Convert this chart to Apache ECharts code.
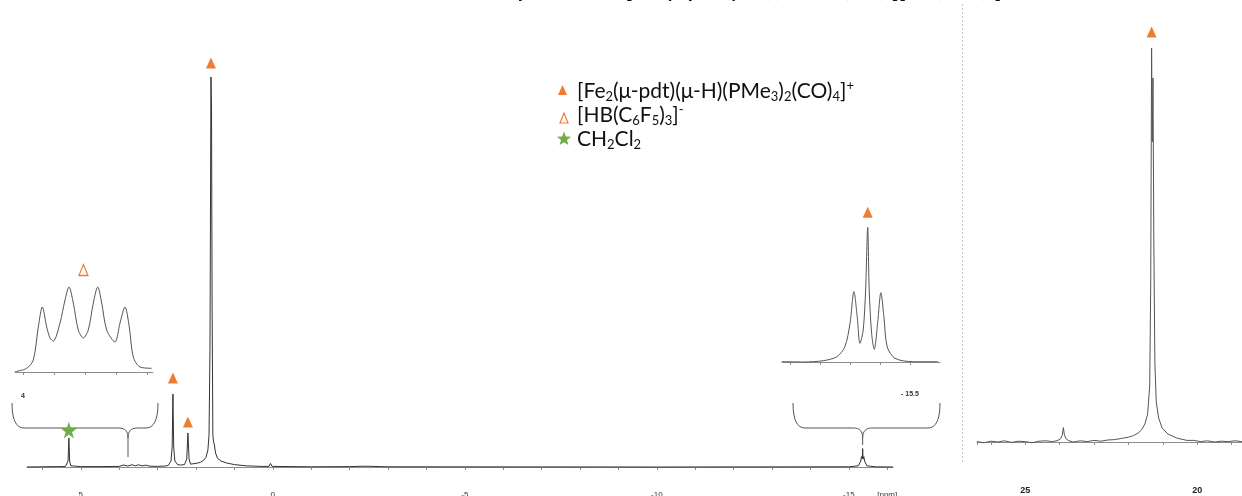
<!DOCTYPE html>
<html><head><meta charset="utf-8">
<script src="https://cdn.jsdelivr.net/npm/echarts@6/dist/echarts.min.js"></script>
<style>html,body{margin:0;padding:0;background:#fff}#c{width:1242px;height:496px}</style>
</head><body><div id="c"></div>
<script>
// ---- 1H spectrum (main), ppm vs intensity ----
const mainPpm = [6.4, 5.6, 5.4, 5.36, 5.33, 5.31, 5.29, 5.26, 5.0, 4.5, 4.0, 3.95, 3.89, 3.78, 3.66, 3.58, 3.50, 3.40, 3.31, 3.2, 3.0, 2.8, 2.72, 2.65, 2.62, 2.60, 2.58, 2.55, 2.48, 2.40, 2.30, 2.24, 2.21, 2.18, 2.14, 2.08, 2.06, 2.03, 1.95, 1.88, 1.80, 1.74, 1.69, 1.66, 1.635, 1.61, 1.595, 1.58, 1.56, 1.545, 1.52, 1.49, 1.44, 1.35, 1.2, 1.0, 0.7, 0.3, 0.1, 0.06, 0.02, -1.0, -2.0, -2.4, -2.8, -3.0, -10.0, -15.0, -15.25, -15.31, -15.33, -15.35, -15.36, -15.37, -15.39, -15.41, -15.47, -15.7, -16.15];
const mainIntensity = [0, 0.1, 0.1, 0.3, 1.5, 7.25, 1.5, 0.3, 0.1, 0.1, 0.15, 0.2, 0.5, 0.25, 0.55, 0.3, 0.55, 0.3, 0.45, 0.2, 0.15, 0.25, 0.4, 1.5, 5, 18.25, 5, 1.5, 0.6, 0.5, 0.6, 2, 8.5, 2, 0.7, 0.8, 1.2, 0.8, 1.0, 1.2, 1.7, 2.4, 4.2, 8, 30, 97.5, 90, 40, 8, 6.5, 5.5, 3.5, 2.2, 1.5, 1.0, 0.6, 0.3, 0.15, 0.15, 0.9, 0.15, 0.05, 0.1, 0.2, 0.1, 0.05, 0, 0.05, 0.3, 1.5, 2.6, 2.0, 4.6, 2.0, 2.6, 1.5, 0.3, 0.05, 0];
const mainTicks = [6, 5, 4, 3, 2, 1, 0, -1, -2, -3, -4, -5, -6, -7, -8, -9, -10, -11, -12, -13, -14, -15, -16];
const mainTickLabels = [5, 0, -5, -10, -15];
const mainUnitLabelAt = -16;

// ---- inset: [HB(C6F5)3]- quartet ----
const quartetPpm = [4.0258, 3.9881, 3.9668, 3.9506, 3.9377, 3.9235, 3.9129, 3.9023, 3.8806, 3.8645, 3.8516, 3.8377, 3.8216, 3.8055, 3.7894, 3.7732, 3.7590, 3.7461, 3.7300, 3.7032, 3.6871, 3.6710, 3.6571, 3.6442, 3.6226, 3.5848];
const quartetIntensity = [0.3, 3.7, 12, 45, 65, 45, 34, 31, 49, 72, 85, 69, 42, 34, 42, 69, 85, 69, 42, 30, 49, 65, 45, 15, 5, 3.7];
const quartetTicks = [4.0, 3.9, 3.8, 3.7, 3.6];
const quartetTickLabels = [4.0];
const quartetCenterPpm = 3.77;

// ---- inset: hydride triplet ----
const hydridePpm = [-15.073, -15.144, -15.211, -15.256, -15.283, -15.300, -15.313, -15.324, -15.333, -15.344, -15.352, -15.359, -15.364, -15.372, -15.381, -15.392, -15.403, -15.413, -15.424, -15.450, -15.511, -15.594];
const hydrideIntensity = [0.3, 0, 1.3, 5.3, 15.3, 38.7, 70.3, 45.3, 18.7, 32, 72, 134.7, 72, 28.7, 12.7, 38.7, 69.3, 45.3, 15.3, 3.7, 0.3, 0.3];
const hydrideTicks = [-15.1, -15.2, -15.3, -15.4, -15.5];
const hydrideTickLabels = [-15.5];
const hydrideCenterPpm = -15.36;

// ---- 31P spectrum (right panel) ----
const pPpm = [26.4, 26.2, 26.0, 25.8, 25.6, 25.4, 25.2, 25.0, 24.8, 24.6, 24.4, 24.2, 24.05, 23.97, 23.92, 23.89, 23.86, 23.81, 23.73, 23.6, 23.4, 23.2, 23.0, 22.8, 22.6, 22.4, 22.2, 22.0, 21.85, 21.72, 21.62, 21.52, 21.44, 21.38, 21.35, 21.325, 21.305, 21.285, 21.26, 21.23, 21.19, 21.12, 21.02, 20.85, 20.6, 20.3, 20.1, 19.9, 19.7, 19.5, 19.3, 19.1, 18.9, 18.7, 18.5, 18.0];
const pIntensity = [0.1, -0.2, 0.2, 0.0, 0.3, -0.1, 0.2, 0.1, -0.2, 0.2, 0.3, 0.1, 0.4, 0.8, 1.8, 3.6, 1.8, 0.8, 0.3, 0.0, 0.3, 0.1, 0.4, 0.2, 0.5, 0.6, 0.9, 1.2, 1.6, 2.2, 3.0, 4.5, 7, 14, 40, 98.5, 75, 91, 50, 20, 10, 6, 3.5, 2, 1, 0.4, 0.4, 0.1, 0.3, 0.0, 0.2, 0.1, 0.3, 0.1, 0.2, 0.1];
const pTickLabels = [25, 20];

// ---- legend / title text ----
const legendLines = [
  '{n|[Fe}{s|2}{n|(μ-pdt)(μ-H)(PMe}{s|3}{n|)}{s|2}{n|(CO)}{s|4}{n|]}{p|+}',
  '{n|[HB(C}{s|6}{n|F}{s|5}{n|)}{s|3}{n|]}{p|-}',
  '{n|CH}{s|2}{n|Cl}{s|2}'
];
const titleText = '{p|1}{n|H NMR spectrum of [Fe}{s|2}{n|(μ-pdt)(μ-H)(PMe}{s|3}{n|)}{s|2}{n|(CO)}{s|4}{n|][HB(C}{s|6}{n|F}{s|5}{n|)}{s|3}{n|]}';

const ORANGE = '#ED7D31', GREEN = '#70AD47', LINE = '#333333', INSET = '#555555', AXIS = '#8c8c8c';
const STAR = 'path://M50,0 L61,35 L98,35 L68,57 L79,91 L50,70 L21,91 L32,57 L2,35 L39,35 Z';
const zip = (a, b) => a.map((v, i) => [v, b[i]]);
const tri = (coord, off) => ({ coord, symbol: 'triangle', symbolSize: [10, 11], symbolOffset: [0, off], itemStyle: { color: ORANGE } });

const chart = echarts.init(document.getElementById('c'), null, { renderer: 'canvas' });

const axisBase = {
  type: 'value', inverse: true, splitLine: { show: false },
  axisLine: { show: true, lineStyle: { color: AXIS, width: 1 } },
  axisTick: { show: true, length: 3, lineStyle: { color: AXIS } }
};

chart.setOption({
  animation: false,
  backgroundColor: '#fff',
  grid: [
    { left: 27, top: 67, width: 866, height: 420, outerBoundsMode: 'none' },
    { left: 977, top: 42, width: 289, height: 440, outerBoundsMode: 'none' },
    { left: 15, top: 250, width: 138, height: 140, outerBoundsMode: 'none' },
    { left: 782, top: 200, width: 158, height: 188, outerBoundsMode: 'none' }
  ],
  xAxis: [
    Object.assign({}, axisBase, {
      gridIndex: 0, min: -16.15, max: 6.4,
      axisTick: { show: true, length: 3, lineStyle: { color: AXIS }, customValues: mainTicks },
      axisLabel: { fontSize: 8, margin: 4, color: '#333', fontFamily: 'Liberation Sans',
        customValues: mainTickLabels.concat([mainUnitLabelAt]),
        formatter: v => v === mainUnitLabelAt ? '[ppm]' : String(v) }
    }),
    Object.assign({}, axisBase, {
      gridIndex: 1, min: 18, max: 26.4, interval: 1,
      axisLabel: { fontSize: 9, margin: 4, color: '#222', fontWeight: 'bold', fontFamily: 'Liberation Sans',
        formatter: v => pTickLabels.includes(v) ? String(v) : '' }
    }),
    Object.assign({}, axisBase, {
      gridIndex: 2, min: 3.5806, max: 4.0258,
      axisTick: { show: true, length: 3, lineStyle: { color: AXIS }, customValues: quartetTicks },
      axisLabel: { fontSize: 7, margin: 3, color: '#333', fontWeight: 'bold', fontFamily: 'Liberation Sans',
        customValues: quartetTickLabels, formatter: v => String(Math.round(v)) }
    }),
    Object.assign({}, axisBase, {
      gridIndex: 3, min: -15.6, max: -15.0733,
      axisTick: { show: true, length: 3, lineStyle: { color: AXIS }, customValues: hydrideTicks },
      axisLabel: { fontSize: 7, margin: 3, color: '#333', fontWeight: 'bold', fontFamily: 'Liberation Sans',
        customValues: hydrideTickLabels, formatter: v => '- ' + Math.abs(v).toFixed(1) }
    })
  ],
  yAxis: [
    { gridIndex: 0, type: 'value', min: -5, max: 100, show: false },
    { gridIndex: 1, type: 'value', min: -10, max: 100, show: false },
    { gridIndex: 2, type: 'value', min: -18, max: 122, show: false },
    { gridIndex: 3, type: 'value', min: -26, max: 162, show: false }
  ],
  series: [
    {
      type: 'line', xAxisIndex: 0, yAxisIndex: 0, data: zip(mainPpm, mainIntensity),
      showSymbol: false, symbol: 'none', lineStyle: { color: LINE, width: 1 }, z: 3,
      markPoint: {
        label: { show: false }, silent: true,
        data: [
          tri([1.61, 97.5], -14), tri([2.60, 18.25], -16), tri([2.21, 8.5], -11),
          { coord: [5.31, 7.25], symbol: STAR, symbolSize: 17, symbolOffset: [0, -8], itemStyle: { color: GREEN } }
        ]
      }
    },
    {
      type: 'line', xAxisIndex: 1, yAxisIndex: 1, data: zip(pPpm, pIntensity),
      showSymbol: false, symbol: 'none', lineStyle: { color: INSET, width: 1 },
      markPoint: { label: { show: false }, silent: true, data: [tri([21.325, 98.5], -16)] }
    },
    {
      type: 'line', xAxisIndex: 2, yAxisIndex: 2, data: zip(quartetPpm, quartetIntensity),
      showSymbol: false, symbol: 'none', smooth: 0.3, lineStyle: { color: INSET, width: 1 },
      markPoint: { label: { show: false }, silent: true, data: [
        { coord: [3.805, 85], symbol: 'triangle', symbolSize: [9, 11], symbolOffset: [0, -17],
          itemStyle: { color: '#fff', borderColor: ORANGE, borderWidth: 1.3 } }
      ] }
    },
    {
      type: 'line', xAxisIndex: 3, yAxisIndex: 3, data: zip(hydridePpm, hydrideIntensity),
      showSymbol: false, symbol: 'none', smooth: 0.3, lineStyle: { color: INSET, width: 1 },
      markPoint: { label: { show: false }, silent: true, data: [tri([-15.359, 134.7], -15)] }
    }
  ]
});

function richStyles(size, weight, subLH) {
  const sub = Math.round(size * 0.64);
  return {
    n: { fontSize: size, fontFamily: 'Lato', fontWeight: weight, lineHeight: 24, fill: '#111' },
    s: { fontSize: sub, fontFamily: 'Lato', fontWeight: weight, lineHeight: subLH || 12, verticalAlign: 'bottom', fill: '#111' },
    p: { fontSize: sub, fontFamily: 'Lato', fontWeight: weight, lineHeight: 16, verticalAlign: 'top', fill: '#111' }
  };
}

// sample a quadratic curve into points
function quad(p0, p1, p2, n) {
  const out = [];
  for (let i = 0; i <= n; i++) {
    const t = i / n, a = (1 - t) * (1 - t), b = 2 * (1 - t) * t, c = t * t;
    out.push([a * p0[0] + b * p1[0] + c * p2[0], a * p0[1] + b * p1[1] + c * p2[1]]);
  }
  return out;
}
// curly-brace decoration: two polylines meeting at the nub
function braceParts(xl, xr, xn, yTop, yLine, yTip) {
  const r = 12;
  const left = [].concat(
    quad([xl, yTop], [xl, yLine], [xl + r, yLine], 8),
    quad([xn - 9, yLine], [xn, yLine], [xn, yLine + 10], 8),
    [[xn, yTip]]
  );
  const right = [].concat(
    quad([xn, yLine + 10], [xn, yLine], [xn + 9, yLine], 8),
    quad([xr - r, yLine], [xr, yLine], [xr, yTop], 8)
  );
  return [left, right];
}
function starPoints(cx, cy, R) {
  const pts = [];
  for (let i = 0; i < 10; i++) {
    const rad = i % 2 === 0 ? R : R * 0.42;
    const ang = -Math.PI / 2 + i * Math.PI / 5;
    pts.push([cx + rad * Math.cos(ang), cy + rad * Math.sin(ang)]);
  }
  return pts;
}

const nubQ = chart.convertToPixel({ gridIndex: 0 }, [quartetCenterPpm, 0])[0];
const nubH = chart.convertToPixel({ gridIndex: 0 }, [hydrideCenterPpm, 0])[0];
const bq = braceParts(12, 158, nubQ, 403, 428, 457);
const bh = braceParts(793, 940, nubH, 403, 428, 445);
const braceStyle = { stroke: '#555', lineWidth: 1, fill: null };

const legendRich = richStyles(21, 'normal');
chart.setOption({
  graphic: [
    { type: 'line', shape: { x1: 962.5, y1: 4, x2: 962.5, y2: 462 }, style: { stroke: '#c4c4c4', lineWidth: 1, lineDash: [2, 2] } },
    { type: 'polyline', shape: { points: bq[0] }, style: braceStyle },
    { type: 'polyline', shape: { points: bq[1] }, style: braceStyle },
    { type: 'polyline', shape: { points: bh[0] }, style: braceStyle },
    { type: 'polyline', shape: { points: bh[1] }, style: braceStyle },
    { type: 'polygon', shape: { points: [[558, 95], [567, 95], [562.5, 85]] }, style: { fill: ORANGE } },
    { type: 'polygon', shape: { points: [[560, 123], [568, 123], [564, 113]] }, style: { fill: '#fff', stroke: ORANGE, lineWidth: 1.2 } },
    { type: 'polygon', shape: { points: starPoints(564, 139, 7.5) }, style: { fill: GREEN } },
    { type: 'text', x: 577, y: 79, style: { text: legendLines[0], rich: legendRich, verticalAlign: 'top', align: 'left' } },
    { type: 'text', x: 577, y: 103, style: { text: legendLines[1], rich: legendRich, verticalAlign: 'top', align: 'left' } },
    { type: 'text', x: 577, y: 127, style: { text: legendLines[2], rich: legendRich, verticalAlign: 'top', align: 'left' } },
    { type: 'text', x: 425, y: -21.5, style: { text: titleText, rich: richStyles(21, 'bold', 4), verticalAlign: 'top', align: 'left' } }
  ]
});
</script></body></html>
